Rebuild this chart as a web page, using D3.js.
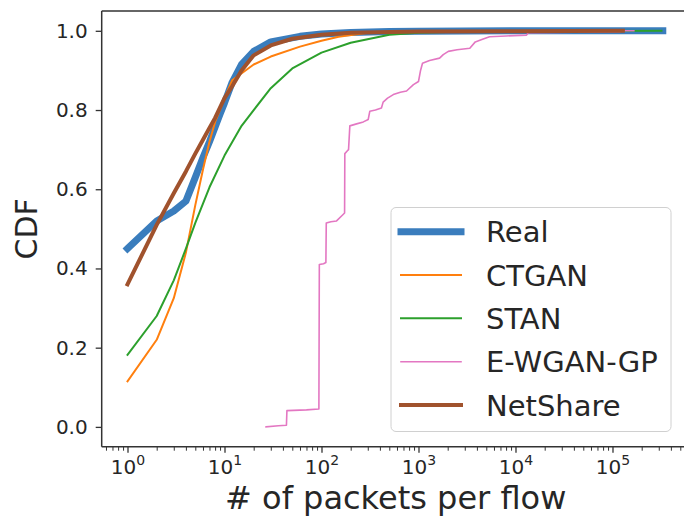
<!DOCTYPE html>
<html>
<head>
<meta charset="utf-8">
<script src="https://cdn.jsdelivr.net/npm/d3@7"></script>
<style>
  html, body { margin: 0; padding: 0; background: #fff; }
  svg { display: block; font-family: "DejaVu Sans", sans-serif; }
</style>
</head>
<body>
<svg id="chart" width="684" height="520"></svg>
<script>
// CDF of packets per flow: real trace vs. synthetic generators
const seriesNames = ["Real", "CTGAN", "STAN", "E-WGAN-GP", "NetShare"];

const realX = [1, 2, 3, 4, 5, 6, 7, 8, 9, 10, 12, 15, 20, 30, 60, 100, 200, 500, 1000, 10000, 100000, 330000];
const realY = [0.45, 0.52, 0.545, 0.57, 0.63, 0.68, 0.72, 0.757, 0.79, 0.818, 0.87, 0.915, 0.948, 0.972, 0.986, 0.992, 0.996, 0.998, 0.999, 1.0, 1.0, 1.0];

const ctganX = [1, 2, 3, 4, 5, 6, 7, 8, 10, 12, 20, 30, 60, 100, 150, 300, 1000, 10000, 100000];
const ctganY = [0.115, 0.22, 0.325, 0.44, 0.56, 0.65, 0.72, 0.77, 0.83, 0.875, 0.915, 0.935, 0.96, 0.975, 0.985, 0.995, 0.998, 0.999, 1.0];

const stanX = [1, 2, 3, 4, 5, 7, 10, 15, 20, 30, 50, 100, 200, 500, 1000, 3000, 10000, 320000];
const stanY = [0.182, 0.28, 0.37, 0.45, 0.515, 0.605, 0.685, 0.76, 0.8, 0.855, 0.905, 0.945, 0.97, 0.99, 0.995, 0.998, 0.999, 1.0];

const ewganX = [26.8, 36, 43.5, 44, 70, 94, 95, 105, 111, 112, 125, 143, 165, 173, 174, 185, 190, 196, 230, 270, 303, 315, 360, 415, 432, 480, 550, 650, 753, 887, 1000, 1050, 1100, 1300, 1650, 1800, 2030, 2500, 3380, 3850, 4500, 5400, 8000, 13000, 13500, 120000, 128000, 166000];
const ewganY = [0.0, 0.003, 0.004, 0.041, 0.043, 0.045, 0.41, 0.412, 0.415, 0.515, 0.518, 0.52, 0.535, 0.54, 0.69, 0.697, 0.7, 0.76, 0.765, 0.77, 0.776, 0.797, 0.8, 0.805, 0.82, 0.83, 0.839, 0.845, 0.848, 0.864, 0.872, 0.9, 0.918, 0.925, 0.931, 0.94, 0.948, 0.952, 0.956, 0.972, 0.978, 0.985, 0.987, 0.989, 0.995, 0.998, 1.0, 1.0];

const netshareX = [1, 2, 3, 4, 5, 6, 7, 8, 10, 12, 15, 20, 30, 50, 100, 200, 1000, 10000, 128000];
const netshareY = [0.36, 0.51, 0.59, 0.645, 0.69, 0.725, 0.755, 0.78, 0.83, 0.86, 0.9, 0.938, 0.963, 0.98, 0.99, 0.995, 0.998, 0.999, 1.0];

const yTicks = [0, 0.2, 0.4, 0.6, 0.8, 1.0];
const xExponents = [0, 1, 2, 3, 4, 5];

const colors = ["#3a7dbd", "#ff7f0e", "#2ca02c", "#e377c2", "#a0522d"];
const widths = [7, 2, 2, 1.6, 4];

const series = [
  { name: seriesNames[0], xs: realX, ys: realY },
  { name: seriesNames[1], xs: ctganX, ys: ctganY },
  { name: seriesNames[2], xs: stanX, ys: stanY },
  { name: seriesNames[3], xs: ewganX, ys: ewganY },
  { name: seriesNames[4], xs: netshareX, ys: netshareY }
];

const svg = d3.select("#chart");
const plot = { left: 101.7, right: 689.7, top: 11, bottom: 446.7 };
const textColor = "#262626";
const spineColor = "#333";

const x = d3.scaleLog()
  .domain([Math.pow(10, -0.266), Math.pow(10, 5.796)])
  .range([plot.left, plot.right]);
const y = d3.scaleLinear()
  .domain([-0.05, 1.05])
  .range([plot.bottom, plot.top]);

// Y axis
const yAxis = svg.append("g")
  .attr("transform", `translate(${plot.left},0)`)
  .call(d3.axisLeft(y).tickValues(yTicks).tickFormat(d3.format(".1f")).tickSize(6).tickPadding(8));
yAxis.select(".domain").remove();
yAxis.selectAll(".tick line").attr("stroke", spineColor).attr("stroke-width", 1.3);
yAxis.selectAll(".tick text")
  .attr("fill", textColor)
  .style("font-size", "20px")
  .style("font-family", "DejaVu Sans");

// X axis: major decades
const majors = xExponents.map(e => Math.pow(10, e));
const xAxis = svg.append("g")
  .attr("transform", `translate(0,${plot.bottom})`)
  .call(d3.axisBottom(x).tickValues(majors).tickFormat("").tickSize(6));
xAxis.select(".domain").remove();
xAxis.selectAll(".tick line").attr("stroke", spineColor).attr("stroke-width", 1.3);
xAxis.selectAll(".tick").each(function (d, i) {
  const t = d3.select(this).append("text")
    .attr("y", 27)
    .attr("fill", textColor)
    .attr("text-anchor", "middle")
    .style("font-size", "20px")
    .style("font-family", "DejaVu Sans");
  t.append("tspan").text("10");
  t.append("tspan").attr("dy", -9).style("font-size", "14px").text(String(xExponents[i]));
});

// X axis: minor ticks
const [d0, d1] = x.domain();
const minors = [];
for (let e = -1; e <= 6; e++) {
  for (let m = 2; m <= 9; m++) {
    const v = m * Math.pow(10, e);
    if (v >= d0 && v <= d1) minors.push(v);
  }
}
svg.append("g")
  .attr("transform", `translate(0,${plot.bottom})`)
  .call(d3.axisBottom(x).tickValues(minors).tickFormat("").tickSize(4))
  .call(g => g.select(".domain").remove())
  .call(g => g.selectAll(".tick line").attr("stroke", spineColor).attr("stroke-width", 1));

// Spines
const spines = svg.append("g").attr("stroke", spineColor).attr("stroke-width", 1.5).attr("fill", "none");
spines.append("line").attr("x1", plot.left).attr("x2", plot.left).attr("y1", plot.top).attr("y2", plot.bottom);
spines.append("line").attr("x1", plot.left).attr("x2", plot.right).attr("y1", plot.bottom).attr("y2", plot.bottom);
spines.append("line").attr("x1", plot.left).attr("x2", plot.right).attr("y1", plot.top).attr("y2", plot.top);
spines.append("line").attr("x1", plot.right).attr("x2", plot.right).attr("y1", plot.top).attr("y2", plot.bottom);

// Curves
const line = d3.line()
  .x(d => x(d[0]))
  .y(d => y(d[1]));

svg.append("g")
  .selectAll("path")
  .data(series)
  .join("path")
  .attr("d", s => line(s.xs.map((v, i) => [v, s.ys[i]])))
  .attr("fill", "none")
  .attr("stroke", (s, i) => colors[i])
  .attr("stroke-width", (s, i) => widths[i])
  .attr("stroke-linejoin", "round")
  .attr("stroke-linecap", "square");

// Axis labels
svg.append("text")
  .attr("x", (plot.left + plot.right) / 2)
  .attr("y", 509)
  .attr("text-anchor", "middle")
  .attr("fill", textColor)
  .style("font-size", "32px")
  .text("# of packets per flow");

svg.append("text")
  .attr("transform", `translate(37,${(plot.top + plot.bottom) / 2}) rotate(-90)`)
  .attr("text-anchor", "middle")
  .attr("fill", textColor)
  .style("font-size", "30px")
  .text("CDF");

// Legend
const legend = svg.append("g");
legend.append("rect")
  .attr("x", 391).attr("y", 207.5)
  .attr("width", 280).attr("height", 224)
  .attr("rx", 5)
  .attr("fill", "#fff").attr("fill-opacity", 0.8)
  .attr("stroke", "#d0d0d0").attr("stroke-width", 1);

const rowY = d3.scaleLinear().domain([0, 4]).range([231.7, 405]);
series.forEach((s, i) => {
  const cy = rowY(i);
  legend.append("line")
    .attr("x1", 401).attr("x2", 461)
    .attr("y1", cy).attr("y2", cy)
    .attr("stroke", colors[i])
    .attr("stroke-width", widths[i])
    .attr("stroke-linecap", "square");
  legend.append("text")
    .attr("x", 486).attr("y", cy + 10.5)
    .attr("fill", textColor)
    .style("font-size", "29px")
    .text(s.name);
});
</script>
</body>
</html>
